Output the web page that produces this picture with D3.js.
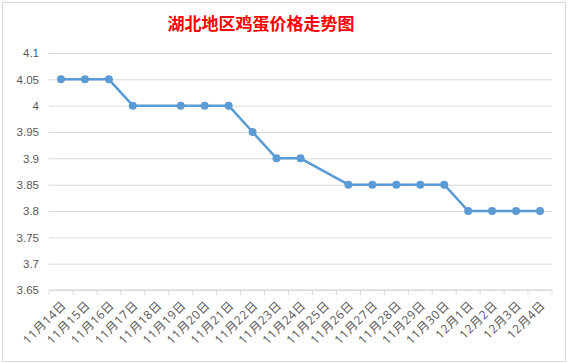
<!DOCTYPE html>
<html>
<head>
<meta charset="utf-8">
<script src="https://d3js.org/d3.v7.min.js"></script>
<style>
  body { margin: 0; background: #fff; }
  svg { display: block; font-family: "Open Sans", "Noto Sans CJK SC", sans-serif; }
  .yaxis .domain { display: none; }
  .yaxis line { stroke: #d9d9d9; }
  .yaxis text { fill: #595959; font-size: 11.5px; }
  .xaxis text { fill: #595959; font-size: 12px; letter-spacing: 0.6px; }
  .xaxis .domain, .xaxis line { stroke: #d9d9d9; }
</style>
</head>
<body>
<div id="chart"></div>
<script>
var days = ["11月14日","11月15日","11月16日","11月17日","11月18日","11月19日","11月20日",
            "11月21日","11月22日","11月23日","11月24日","11月25日","11月26日","11月27日",
            "11月28日","11月29日","11月30日","12月1日","12月2日","12月3日","12月4日"];
var prices = [4.05, 4.05, 4.05, 4.0, null, 4.0, 4.0,
              4.0, 3.95, 3.9, 3.9, null, 3.85, 3.85,
              3.85, 3.85, 3.85, 3.8, 3.8, 3.8, 3.8];
var yTicks = [3.65, 3.7, 3.75, 3.8, 3.85, 3.9, 3.95, 4, 4.05, 4.1];
var title = "湖北地区鸡蛋价格走势图";

var W = 569, H = 363;
var margin = {top: 53, right: 17, bottom: 73, left: 49};
var width = W - margin.left - margin.right,
    height = H - margin.top - margin.bottom;

var svg = d3.select("#chart").append("svg")
    .attr("width", W)
    .attr("height", H);

// chart frame
svg.append("rect")
    .attr("x", 2.5).attr("y", 2.5)
    .attr("width", 563).attr("height", 359)
    .attr("fill", "#fff")
    .attr("stroke", "#d9d9d9");

svg.append("text")
    .attr("x", 261)
    .attr("y", 30)
    .attr("text-anchor", "middle")
    .attr("fill", "#ff0000")
    .style("font-size", "17px")
    .style("font-weight", "bold")
    .style("font-family", "'Noto Sans CJK SC', sans-serif")
    .text(title);

var g = svg.append("g")
    .attr("transform", "translate(" + margin.left + "," + margin.top + ")");

var x = d3.scaleBand().domain(days).range([0, width]);
var y = d3.scaleLinear().domain([3.65, 4.1]).range([height, 0]);

var yaxis = d3.axisLeft(y)
    .tickValues(yTicks)
    .tickSize(-width)
    .tickPadding(10)
    .tickFormat(function(d) { return String(+d.toFixed(2)); });

g.append("g")
    .attr("class", "yaxis")
    .call(yaxis);

// x axis with ticks at category boundaries
var xaxis = g.append("g")
    .attr("class", "xaxis")
    .attr("transform", "translate(0," + height + ")");

xaxis.append("line")
    .attr("class", "domain")
    .attr("x1", 0).attr("x2", width)
    .attr("stroke", "#d9d9d9");

xaxis.selectAll(".tick")
    .data(d3.range(days.length + 1))
    .enter().append("line")
    .attr("x1", function(i) { return i * x.step(); })
    .attr("x2", function(i) { return i * x.step(); })
    .attr("y1", 0).attr("y2", 5)
    .attr("stroke", "#d9d9d9");

xaxis.selectAll("text")
    .data(days)
    .enter().append("text")
    .attr("transform", function(d) {
      return "translate(" + (x(d) + x.bandwidth() / 2 + 3) + ",13) rotate(-45)";
    })
    .attr("text-anchor", "end")
    .attr("dy", "0.35em")
    .text(function(d) { return d; });

var pts = days.map(function(d, i) { return {day: d, price: prices[i]}; })
    .filter(function(d) { return d.price != null; });

var line = d3.line()
    .x(function(d) { return x(d.day) + x.bandwidth() / 2; })
    .y(function(d) { return y(d.price); });

g.append("path")
    .datum(pts)
    .attr("fill", "none")
    .attr("stroke", "#5b9bd5")
    .attr("stroke-width", 2.5)
    .attr("stroke-linejoin", "round")
    .attr("d", line);

g.selectAll(".dot")
    .data(pts)
    .enter().append("circle")
    .attr("class", "dot")
    .attr("cx", function(d) { return x(d.day) + x.bandwidth() / 2; })
    .attr("cy", function(d) { return y(d.price); })
    .attr("r", 4)
    .attr("fill", "#5b9bd5");
</script>
</body>
</html>
